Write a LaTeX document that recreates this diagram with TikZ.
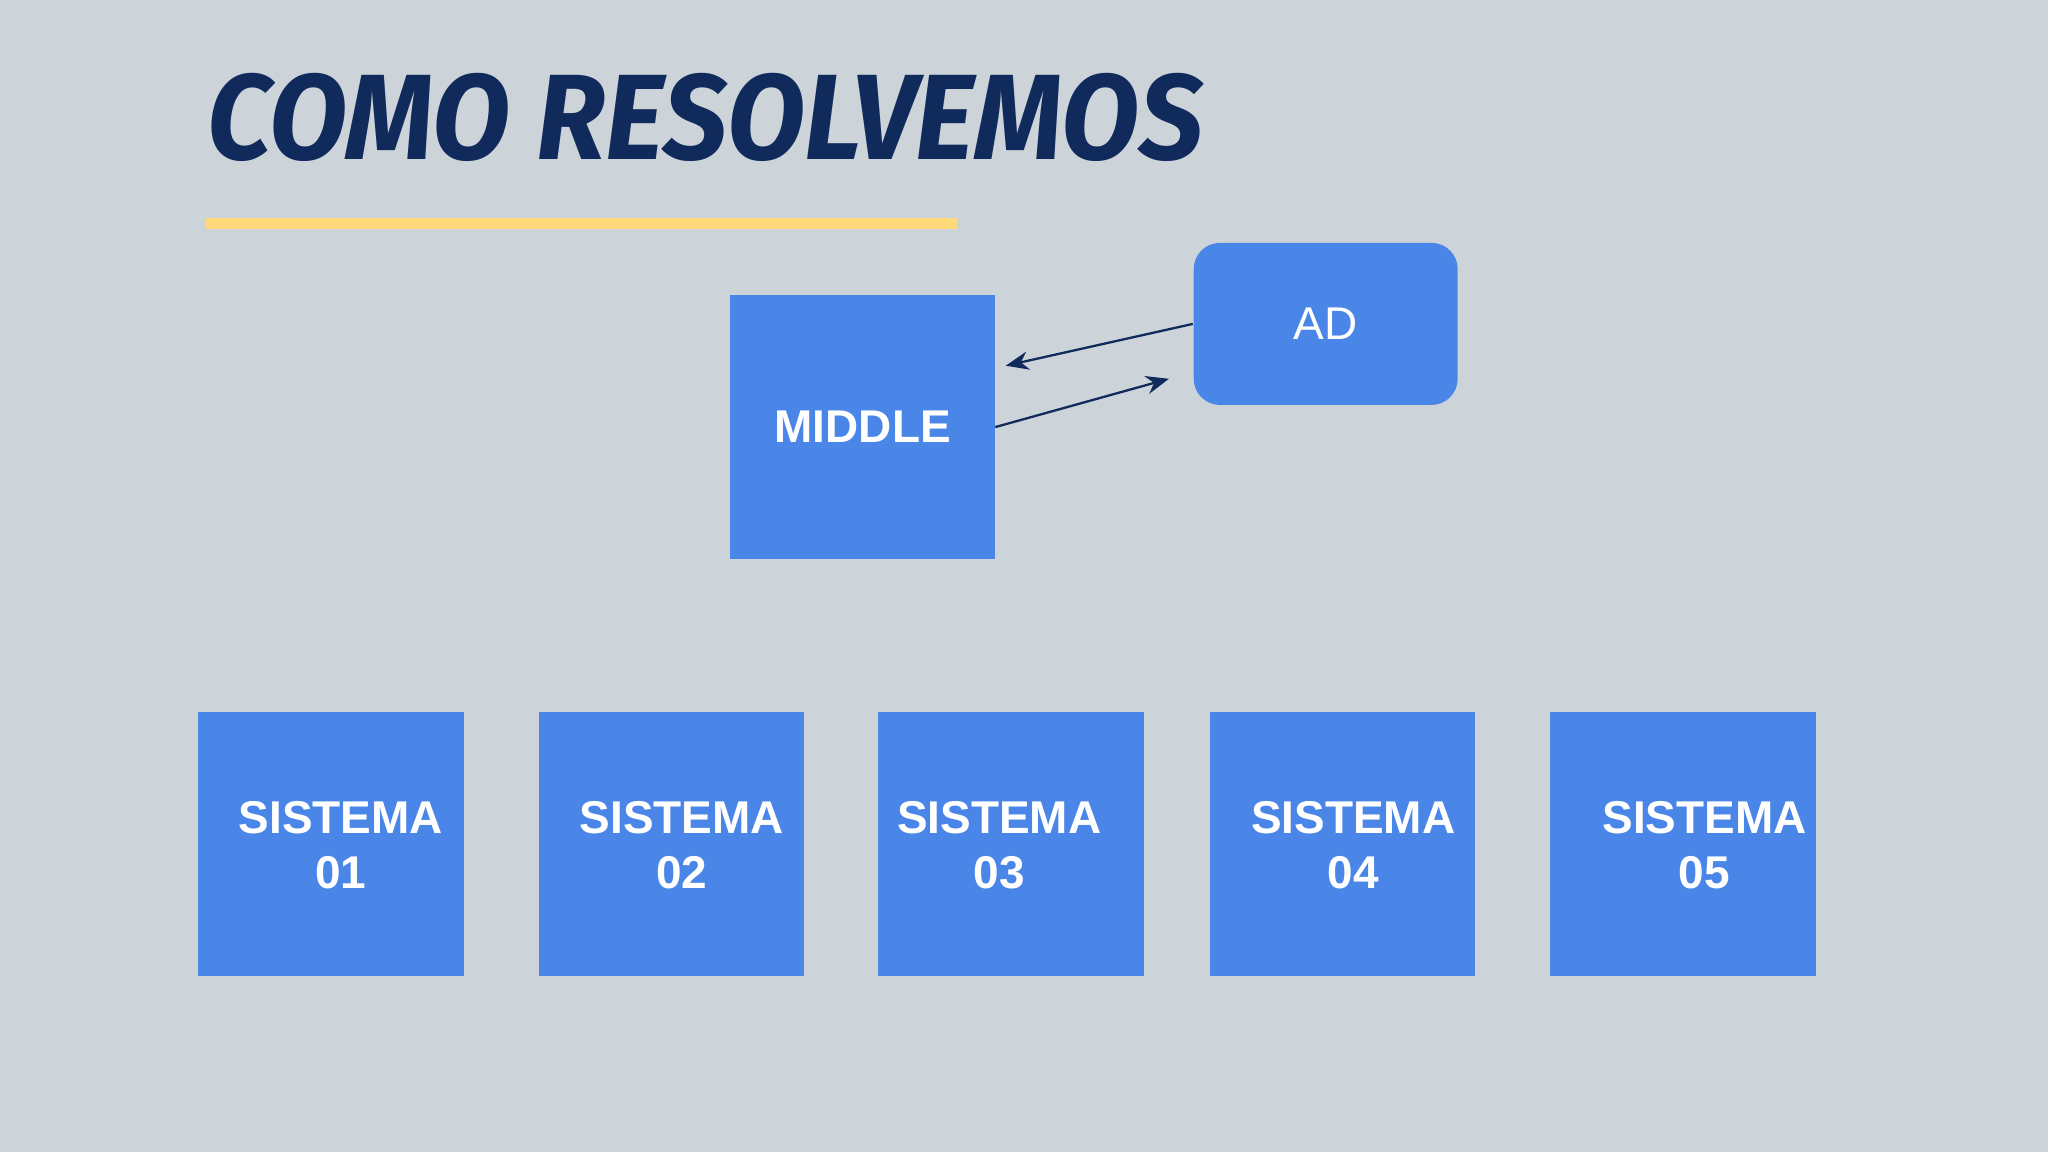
\documentclass[tikz,border=0pt]{standalone}
\usepackage{fontspec}
\setmainfont{Liberation Sans}
\usetikzlibrary{arrows.meta}
\definecolor{bg}{HTML}{CDD4D9}
\definecolor{boxb}{HTML}{4A86E8}
\definecolor{navy}{HTML}{102A5C}
\definecolor{ylw}{HTML}{FFD97A}
\begin{document}
\begin{tikzpicture}[x=0.01cm,y=-0.01cm,
  sq/.style={fill=boxb,minimum width=2.03cm,minimum height=2.02cm,inner sep=0},
  lbl/.style={text=white,font=\fontsize{10}{12}\selectfont\bfseries,align=center},
  arr/.style={draw=navy,line width=0.5pt,-{Stealth[length=5pt,width=4pt]}}]
\fill[bg] (0,0) rectangle (1568,882);
\useasboundingbox (0,0) rectangle (1568,882);
\node[anchor=west,inner sep=0,text=navy] (title) at (158,90) {\resizebox{7.62cm}{0.66cm}{\fontspec{Fira Sans}\bfseries\itshape COMO RESOLVEMOS}};
\draw[ylw,line width=0.08cm] (158,171) -- (733,171);
\node[sq] (mid) at (660.5,327) {};
\node[lbl] at (mid) {MIDDLE};
\node[fill=boxb,minimum width=2.02cm,minimum height=1.24cm,rounded corners=0.2cm,text=white,font=\fontsize{10}{12}\selectfont] (ad) at (1015,248) {AD};
\coordinate (a1) at (770,280);
\coordinate (a2) at (895,290);
\coordinate (m1) at (762,327);
\draw[arr] (ad.west) -- (a1);
\draw[arr] (m1) -- (a2);
\foreach \i/\x/\t in {1/253.5/261,2/514/522,3/774/765,4/1028/1036,5/1288.5/1305}{
  \node[sq] (s\i) at (\x,646) {};
  \node[lbl] (t\i) at (\t,647) {SISTEMA\\0\i};
}
\end{tikzpicture}
\end{document}
